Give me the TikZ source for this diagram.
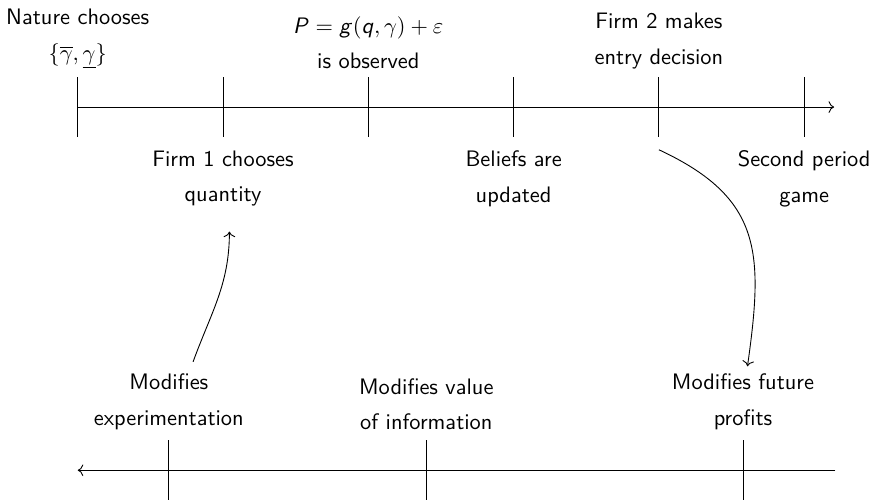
\documentclass[tikz,border=0pt]{standalone}
\usetikzlibrary{arrows.meta, calc, positioning}
\DeclareMathAlphabet{\mathsfit}{OT1}{cmss}{m}{sl}
\tikzset{
  % asse dei tempi
  timeline/.style={->, thin},
  % tacca su un asse
  tacca/.style={thin},
  % etichetta di un evento
  evt/.style={align=center, font=\sffamily, inner sep=3.33pt},
  % freccia curva tra due etichette
  effect/.style={->, thin},
}
\begin{document}
\begin{tikzpicture}
  \useasboundingbox (0,0) rectangle (13.7,7.85);
  % primo periodo
  \draw[timeline] (1.22,6.17) -- (13.09,6.17);
  \foreach \i in {1,...,6} {
    \coordinate (up\i) at ({1.22+2.28*(\i-1)},6.64);
    \coordinate (dn\i) at ({1.22+2.28*(\i-1)},5.70);
    \draw[tacca] (up\i) -- (dn\i);
  }
  \node[evt, above=0pt of up1] (nature) {Nature chooses\\[4pt] $\{\overline{\gamma},\underline{\gamma}\}$};
  \node[evt, below=2.5pt of dn2] (qty) {Firm 1 chooses\\[4pt] quantity};
  \node[evt, above=0pt of up3] (price) {$\mathsfit{P}=\mathsfit{g}(\mathsfit{q},\gamma)+\varepsilon$\\[4pt] is observed};
  \node[evt, below=2.5pt of dn4] (belief) {Beliefs are\\[4pt] updated};
  \node[evt, above=0pt of up5] (entry) {Firm 2 makes\\[4pt] entry decision};
  \node[evt, below=2.5pt of dn6] (second) {Second period\\[4pt] game};
  % effetti
  \draw[timeline] (13.11,0.47) -- (1.22,0.47);
  \foreach \i/\x in {1/2.65, 2/6.69, 3/11.66} {
    \coordinate (bu\i) at (\x,0.94);
    \coordinate (bd\i) at (\x,0);
    \draw[tacca] (bu\i) -- (bd\i);
  }
  \node[evt, above=1pt of bu1] (expm) {Modifies\\[4pt] experimentation};
  \node[evt, above=1pt of bu2] (info) {Modifies value\\[4pt] of information};
  \node[evt, above=1pt of bu3] (prof) {Modifies future\\[4pt] profits};
  \coordinate (from5) at ($(dn5)+(0,-0.2)$);
  \draw[effect] ([xshift=0.38cm, yshift=2pt]expm.north) to[out=70, in=-90] ([xshift=0.1cm, yshift=-0.27cm]qty.south);
  \draw[effect] (from5) to[out=-25, in=82, looseness=1.25] ([xshift=2pt]prof.north);
\end{tikzpicture}
\end{document}
